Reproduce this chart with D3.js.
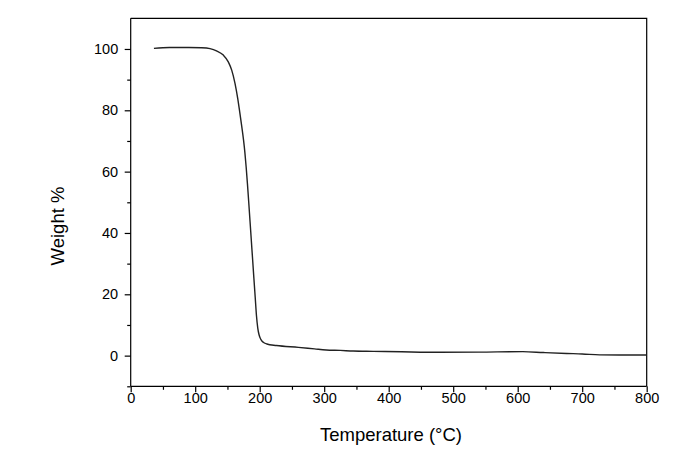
<!DOCTYPE html>
<html><head><meta charset="utf-8">
<script src="https://cdn.jsdelivr.net/npm/d3@7"></script>
<style>body{margin:0;background:#fff}svg{display:block}text{font-family:"Liberation Sans",Arial,sans-serif}</style>
</head><body>
<svg id="c" width="691" height="462"></svg>
<script>
const temperature = [36, 60, 90, 110, 123, 133, 143.6, 151.3, 156.6, 161.7, 165.9, 169, 172, 175, 177, 179, 181, 183, 186, 188, 191, 193, 195, 197, 199, 202, 206, 211, 226, 260, 285, 303, 325, 345, 376, 420, 479, 540, 608, 640, 676, 700, 727, 760, 799];
const weight = [100.2, 100.5, 100.5, 100.4, 100.1, 99.4, 98.0, 95.8, 93.1, 88.8, 83.9, 79.5, 75.0, 70.2, 66.3, 61.5, 56.0, 50.0, 40.7, 34.5, 25.2, 19.1, 13.0, 9.0, 6.8, 5.2, 4.3, 3.8, 3.3, 2.7, 2.2, 1.85, 1.7, 1.5, 1.4, 1.25, 1.1, 1.15, 1.3, 1.0, 0.7, 0.55, 0.25, 0.2, 0.2];
const xTicks = [0, 100, 200, 300, 400, 500, 600, 700, 800];
const yTicks = [0, 20, 40, 60, 80, 100];
const xLabel = "Temperature (°C)";
const yLabel = "Weight %";

const svg = d3.select("#c");
const L = 130.7, R = 646.7, T = 18.3, B = 386.3;
const x = d3.scaleLinear().domain([0, 800]).range([L, R]);
const y = d3.scaleLinear().domain([-10, 110]).range([B, T]);

svg.append("path").attr("d", `M${L},${T}H${R}V${B}`).attr("fill","none").attr("stroke","#000").attr("stroke-width",1.2);

const xMinor = d3.range(50, 800, 100);
const yMinor = d3.range(-10, 110, 20);

const gx = svg.append("g").attr("transform", `translate(0,${B})`);
gx.call(d3.axisBottom(x).tickValues(xTicks).tickSize(6).tickPadding(0).tickFormat(d3.format("d")));
const gxm = svg.append("g").attr("transform", `translate(0,${B})`);
gxm.call(d3.axisBottom(x).tickValues(xMinor).tickSize(3.5).tickFormat("")).select(".domain").remove();

const gy = svg.append("g").attr("transform", `translate(${L},0)`);
gy.call(d3.axisLeft(y).tickValues(yTicks).tickSize(6).tickPadding(6.5).tickFormat(d3.format("d")));
const gym = svg.append("g").attr("transform", `translate(${L},0)`);
gym.call(d3.axisLeft(y).tickValues(yMinor).tickSize(3.5).tickFormat("")).select(".domain").remove();

gx.select(".domain").attr("d", `M${L},0H${R}`);
gy.select(".domain").attr("d", `M0,${T}V${B}`);
svg.selectAll(".tick line, .domain").attr("stroke","#000").attr("stroke-width",1.2);
svg.selectAll(".tick text").attr("font-size", 14.5).attr("fill","#000").attr("font-family","Liberation Sans, Arial, sans-serif");

svg.append("text").attr("x", 391).attr("y", 441).attr("text-anchor","middle").attr("font-size",18.5).attr("fill","#000").text(xLabel);
svg.append("text").attr("transform","translate(64,226) rotate(-90)").attr("text-anchor","middle").attr("font-size",18.5).attr("fill","#000").text(yLabel);

const line = d3.line().x((d,i)=>x(temperature[i])).y(d=>y(d)).curve(d3.curveMonotoneX);
svg.append("path").datum(weight).attr("d", line).attr("fill","none").attr("stroke","#222").attr("stroke-width",1.4);
</script>
</body></html>
